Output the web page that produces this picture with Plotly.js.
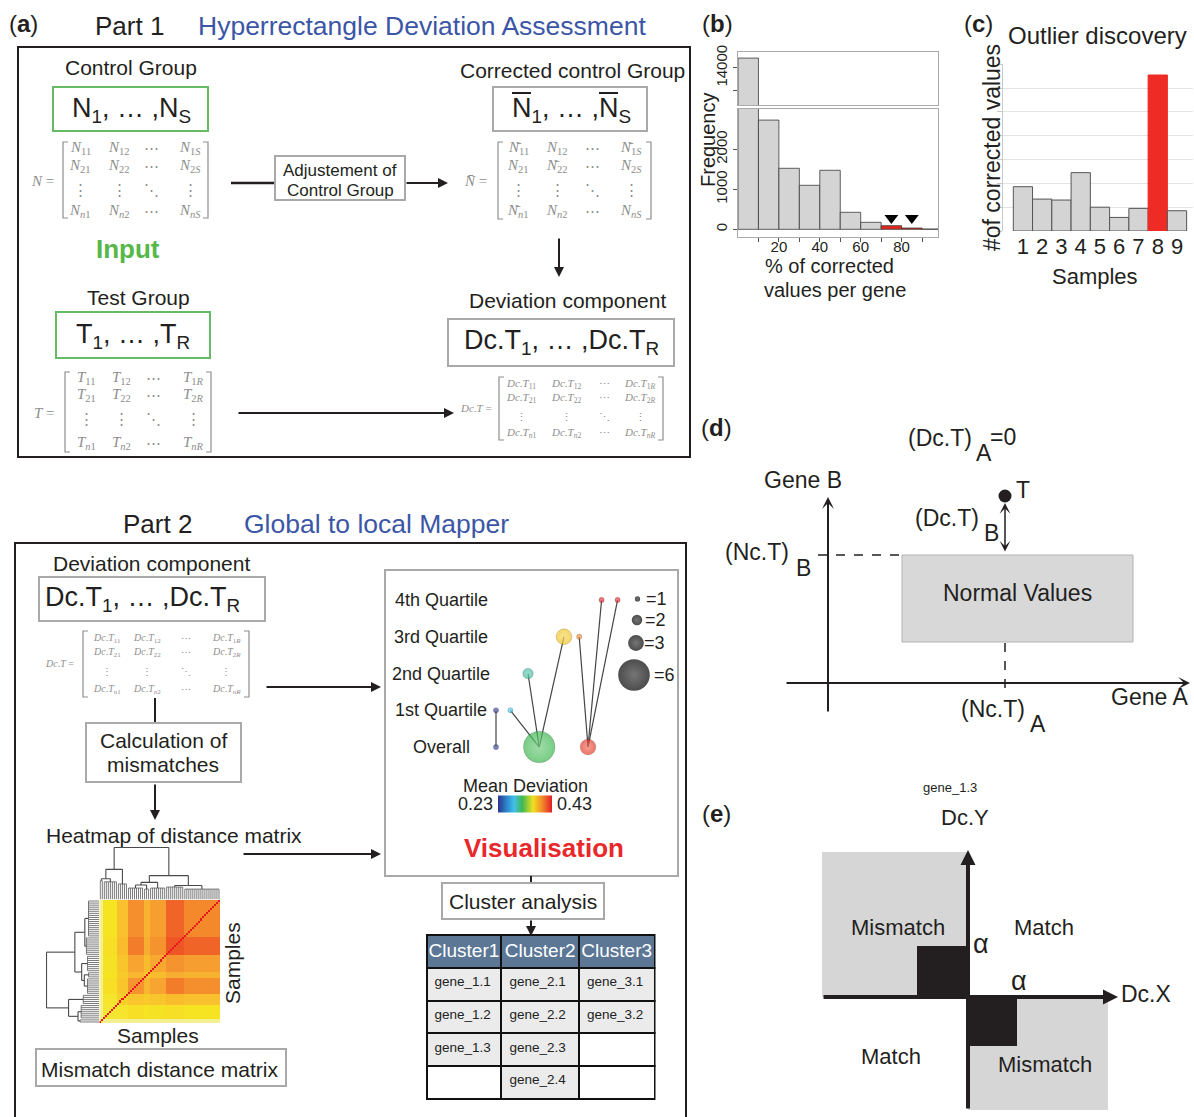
<!DOCTYPE html>
<html><head><meta charset="utf-8">
<script src="https://cdn.plot.ly/plotly-3.0.1.min.js"></script>
<style>html,body{margin:0;padding:0;background:#fff;}#chart{width:1194px;height:1117px;}</style>
</head><body><div id="chart"></div>
<script>
// ================= DATA =================
// (b) histogram: % of corrected values per gene
const histBinStart = [0, 10, 20, 30, 40, 50, 60, 70, 80, 90];
const histFrequency = [14450, 2730, 1525, 1100, 1475, 425, 175, 90, 32, 6];
const histOutlierBins = [70, 80];
// (c) outlier discovery
const sampleIds = [1, 2, 3, 4, 5, 6, 7, 8, 9];
const correctedValues = [186, 134, 130, 245, 100, 57, 95, 655, 85];
const outlierSample = 8;
// Mapper graph (Visualisation)
const quartileLevels = ['Overall', '1st Quartile', '2nd Quartile', '3rd Quartile', '4th Quartile'];
const nodeIds = ['q1a', 'ov1', 'q1b', 'q2', 'ov2', 'q3a', 'q3b', 'ov3', 'q4a', 'q4b'];
const nodeLevel = [1, 0, 1, 2, 0, 3, 3, 0, 4, 4];
const nodeLayoutX = [10, 10, 19, 30, 37, 52.5, 62, 67.5, 76, 86];
const nodeCount = [1, 1, 1, 2, 6, 3, 1, 3, 1, 1];
const nodeMeanDeviation = [0.23, 0.23, 0.29, 0.305, 0.32, 0.37, 0.395, 0.42, 0.43, 0.43];
const edgeFrom = ['q1a', 'q1b', 'q2', 'q3a', 'q3b', 'q4a', 'q4b'];
const edgeTo = ['ov1', 'ov2', 'ov2', 'ov2', 'ov3', 'ov3', 'ov3'];
const sizeLegendValues = [1, 2, 3, 6];
const meanDeviationRange = [0.23, 0.43];
// Heatmap of mismatch distance matrix (samples grouped in blocks)
const sampleGroup = [0,0, 1,1,1,1,1,1,1, 2,2,2,2,2, 3,3,3,3,3,3,3,3, 4,4,4, 5,5,5,5,5,5,5,5,
  6,6,6,6,6,6,6,6,6, 7,7,7,7,7,7,7,7,7,7,7,7,7,7,7,7,7,7];
const groupDistance = [
  [0.90, 0.95, 0.95, 0.95, 0.95, 0.95, 0.95, 0.95],
  [0.95, 0.84, 0.83, 0.80, 0.82, 0.81, 0.80, 0.82],
  [0.95, 0.83, 0.74, 0.70, 0.72, 0.70, 0.66, 0.68],
  [0.95, 0.80, 0.70, 0.50, 0.64, 0.57, 0.42, 0.48],
  [0.95, 0.82, 0.72, 0.64, 0.70, 0.66, 0.60, 0.62],
  [0.95, 0.81, 0.70, 0.57, 0.66, 0.58, 0.50, 0.54],
  [0.95, 0.80, 0.66, 0.42, 0.60, 0.50, 0.30, 0.35],
  [0.95, 0.82, 0.68, 0.48, 0.62, 0.54, 0.35, 0.46]];
const groupCombHeight = [0.36, 0.34, 0.30, 0.22, 0.20, 0.22, 0.24, 0.20];
const groupMerges = [[0, 1, 0.40], [8, 2, 0.58], [3, 4, 0.28], [10, 5, 0.33], [6, 7, 0.27], [11, 12, 0.46], [9, 13, 1.0]];
// Cluster analysis table
const clusterNames = ['Cluster1', 'Cluster2', 'Cluster3'];
const clusterGenes = [['gene_1.1', 'gene_1.2', 'gene_1.3'], ['gene_2.1', 'gene_2.2', 'gene_2.3', 'gene_2.4'], ['gene_3.1', 'gene_3.2']];

// ================= STYLE / HELPERS =================
const W = 1194, H = 1117;
const SANS = 'Liberation Sans, Arial, Helvetica, sans-serif';
const SERIF = 'Liberation Serif, DejaVu Serif, Times New Roman, serif';
const INK = '#231f20', BLUE = '#3b56a6', GREEN = '#55b848', RED = '#e8282b';
const BOXGRAY = '#a9a9a9', MGRAY = '#8e8e8e', GBOX = '#66bb66';
const xd = (a, b) => [a / W, b / W];
const yd = (a, b) => [1 - b / H, 1 - a / H];
const annotations = [], shapes = [];
function T(x, y, text, size, o = {}) {
  annotations.push({x, y, xref: o.xref || 'x', yref: o.yref || 'y', text, showarrow: false,
    xanchor: o.xanchor || 'center', yanchor: o.yanchor || 'middle', textangle: o.angle || 0,
    font: {family: o.family || SANS, size, color: o.color || INK}});
}
function L(x0, y0, x1, y1, color = INK, width = 2, dash = 'solid') {
  shapes.push({type: 'line', xref: 'x', yref: 'y', x0, y0, x1, y1, line: {color, width, dash}, layer: 'above'});
}
function R(x0, y0, x1, y1, color, width = 2, fill = 'rgba(0,0,0,0)', layer = 'above') {
  shapes.push({type: 'rect', xref: 'x', yref: 'y', x0, y0, x1, y1,
    line: {color: color || 'rgba(0,0,0,0)', width: color ? width : 0}, fillcolor: fill, layer});
}
function A(x0, y0, x1, y1, o = {}) {
  annotations.push({x: x1, y: y1, ax: x0, ay: y0, xref: 'x', yref: 'y', axref: 'x', ayref: 'y', text: '',
    showarrow: true, arrowhead: o.head || 2, arrowsize: o.size || 1, arrowwidth: o.width || 2,
    arrowcolor: INK, standoff: 0, startstandoff: 0, arrowside: o.side || 'end',
    startarrowhead: o.head || 2, startarrowsize: o.size || 1});
}
const it = s => s.replace(/([A-Za-z]+)/g, '<i>$1</i>');
const cell = (base, sub) => it(base) + '<sub>' + it(sub) + '</sub>';
function drawMatrix(m) {
  T(m.lx, m.ly, m.label, m.fs, {family: SERIF, color: MGRAY});
  const k = 5;
  shapes.push({type: 'path', xref: 'x', yref: 'y', path: `M${m.l + k},${m.t} L${m.l},${m.t} L${m.l},${m.b} L${m.l + k},${m.b}`, line: {color: MGRAY, width: 1.2}});
  shapes.push({type: 'path', xref: 'x', yref: 'y', path: `M${m.r - k},${m.t} L${m.r},${m.t} L${m.r},${m.b} L${m.r - k},${m.b}`, line: {color: MGRAY, width: 1.2}});
  m.cells.forEach((row, ri) => row.forEach((c, ci) => T(m.cols[ci], m.rows[ri], c, m.fs, {family: SERIF, color: MGRAY})));
}
function cellsFor(base, last, bars = []) {
  const b = (r, c) => (bars.includes(r + '' + c) ? base + '\u0304' : base);
  return [[cell(b(1,1), '11'), cell(b(1,2), '12'), '⋯', cell(b(1,3), '1' + last)],
          [cell(b(2,1), '21'), cell(b(2,2), '22'), '⋯', cell(b(2,3), '2' + last)],
          ['⋮', '⋮', '⋱', '⋮'],
          [cell(b(4,1), 'n1'), cell(b(4,2), 'n2'), '⋯', cell(b(4,3), 'n' + last)]];
}
// colour helpers (for the sphere highlight of mapper nodes)
const hex2rgb = h => [1, 3, 5].map(i => parseInt(h.slice(i, i + 2), 16));
function scaleColor(scale, t) {
  t = Math.max(0, Math.min(1, t));
  for (let i = 1; i < scale.length; i++) {
    if (t <= scale[i][0]) {
      const f = (t - scale[i - 1][0]) / (scale[i][0] - scale[i - 1][0]);
      const a = hex2rgb(scale[i - 1][1]), b = hex2rgb(scale[i][1]);
      return a.map((v, k) => v + (b[k] - v) * f);
    }
  }
  return hex2rgb(scale[scale.length - 1][1]);
}
const lighten = (rgb, f) => 'rgb(' + rgb.map(v => Math.round(v + (255 - v) * f)).join(',') + ')';

// ================= PART 1 =================
T(23, 23, '(<b>a</b>)', 24);
T(129, 26, 'Part 1', 26);
T(422, 26, 'Hyperrectangle Deviation Assessment', 26.5, {color: BLUE});
R(18, 47, 690, 457, INK, 2);
T(131, 67, 'Control Group', 21);
R(53, 87, 208, 131, GBOX, 2);
T(131, 110, 'N<sub>1</sub>, … ,N<sub>S</sub>', 27);
drawMatrix({lx: 42, ly: 181, label: '<i>N</i> =', l: 63, r: 208, t: 142, b: 218,
  cols: [80, 119, 151, 190], rows: [148, 166, 190, 211], fs: 15, cells: cellsFor('N', 'S')});
L(231, 183, 275, 183, INK, 2.5);
R(275, 156, 405, 200, BOXGRAY, 2);
T(340, 170, 'Adjustement of', 17);
T(340, 190, 'Control Group', 17);
A(405, 183, 448, 183);
T(572, 70, 'Corrected control Group', 21);
R(493, 87, 647, 131, BOXGRAY, 2);
T(571, 110, 'N<sub>1</sub>, … ,N<sub>S</sub>', 27);
L(512, 93, 531, 93, INK, 2);
L(599, 93, 618, 93, INK, 2);
drawMatrix({lx: 475, ly: 181, label: '<i>N\u0304</i> =', l: 498, r: 651, t: 142, b: 219,
  cols: [518, 557, 592, 631], rows: [148, 166, 190, 211], fs: 15, cells: cellsFor('N', 'S', ['11', '13', '22', '41'])});
A(559, 237, 559, 277);
T(128, 249, '<b>Input</b>', 26, {color: GREEN});
T(138, 297, 'Test Group', 21);
R(56, 312, 210, 358, GBOX, 2);
T(133, 336, 'T<sub>1</sub>, … ,T<sub>R</sub>', 27);
drawMatrix({lx: 44, ly: 413, label: '<i>T</i> =', l: 65, r: 211, t: 372, b: 452,
  cols: [86, 121, 153, 193], rows: [378, 395, 419, 443], fs: 15, cells: cellsFor('T', 'R')});
A(237, 413, 454, 413);
T(567, 300, 'Deviation component', 21);
R(448, 319, 674, 366, BOXGRAY, 2);
T(561, 342, 'Dc.T<sub>1</sub>, … ,Dc.T<sub>R</sub>', 27);
drawMatrix({lx: 476, ly: 408, label: '<i>Dc</i>.<i>T</i> =', l: 499, r: 663, t: 377, b: 440,
  cols: [521, 566, 604, 640], rows: [384, 398, 417, 433], fs: 11, cells: cellsFor('Dc.T', 'R')});

// ================= PART 2 =================
T(157, 524, 'Part 2', 26);
T(376, 524, 'Global to local Mapper', 26.5, {color: BLUE});
R(15, 543, 686, 1135, INK, 2);
T(151, 563, 'Deviation component', 21);
R(39, 577, 265, 621, BOXGRAY, 2);
T(142, 599, 'Dc.T<sub>1</sub>, … ,Dc.T<sub>R</sub>', 27);
drawMatrix({lx: 59, ly: 663, label: '<i>Dc</i>.<i>T</i> =', l: 83, r: 249, t: 631, b: 697,
  cols: [107, 147, 186, 226], rows: [638, 652, 671, 689], fs: 10, cells: cellsFor('Dc.T', 'R')});
A(265, 687, 381, 687);
L(155, 698, 155, 723, INK, 2);
R(86, 723, 241, 782, BOXGRAY, 2);
T(163, 740, 'Calculation of', 21);
T(163, 764, 'mismatches', 21);
A(155, 783, 155, 820);
T(174, 835, 'Heatmap of distance matrix', 21);
A(242, 854, 381, 854);
T(232, 963, 'Samples', 21, {angle: -90});
T(158, 1035, 'Samples', 21);
R(36, 1049, 286, 1086, BOXGRAY, 2);
T(159, 1069, 'Mismatch distance matrix', 21);
R(385, 570, 678, 876, BOXGRAY, 2);
quartileLevels.forEach((q, i) => T(441, i, q, 18, {yref: 'y5'}));
T(525, 786, 'Mean Deviation', 18);
T(475, 804, '0.23', 18);
T(574, 804, '0.43', 18);
T(544, 848, '<b>Visualisation</b>', 26, {color: RED});
L(531, 876, 531, 883, INK, 2);
R(442, 883, 604, 919, BOXGRAY, 2);
T(523, 901, 'Cluster analysis', 21);
A(531, 919, 531, 936);

// ================= (b) (c) labels =================
T(717, 23, '(<b>b</b>)', 24);
T(708, 140, 'Frequency', 20, {angle: -90});
T(829, 266, '% of corrected', 20);
T(835, 290, 'values per gene', 20);
T(978, 23, '(<b>c</b>)', 24);
T(1097, 35, 'Outlier discovery', 24);
T(992, 148, '#of corrected values', 23, {angle: -90});
T(1095, 276, 'Samples', 22);

// ================= (d) =================
T(716, 427, '(<b>d</b>)', 24);
T(940, 438, '(Dc.T)', 23); T(984, 453, 'A', 23); T(1003, 437, '=0', 23);
T(803, 480, 'Gene B', 23);
R(902, 555, 1133, 642, '#b3b3b3', 1, '#d8d8d8', 'below');
T(1017, 593, 'Normal Values', 23);
L(818, 555, 902, 555, INK, 1.5, 'dash');
L(1005, 643, 1005, 697, INK, 1.5, 'dash');
A(828, 713, 828, 497, {head: 3, width: 2, size: 1});
A(785, 683, 1190, 683, {head: 3, width: 2, size: 1});
shapes.push({type: 'circle', xref: 'x', yref: 'y', x0: 998.5, y0: 489.5, x1: 1011.5, y1: 502.5, fillcolor: INK, line: {width: 0}});
A(1005, 553, 1005, 503, {head: 3, width: 1.5, size: 1.2, side: 'end+start'});
T(1023, 490, 'T', 23);
T(947, 518, '(Dc.T)', 23); T(991, 533, 'B', 23);
T(757, 552, '(Nc.T)', 23); T(803, 568, 'B', 23);
T(993, 709, '(Nc.T)', 23); T(1038, 724, 'A', 23);
T(1149, 697, 'Gene A', 23);

// ================= (e) =================
T(950, 787, 'gene_1.3', 13);
T(716, 813, '(<b>e</b>)', 24);
T(965, 817, 'Dc.Y', 22);
R(822, 852, 968, 997, null, 0, '#d6d6d6', 'below');
R(968, 997, 1108, 1110, null, 0, '#d6d6d6', 'below');
R(917, 946, 968, 997, null, 0, INK, 'below');
R(968, 997, 1017, 1046, null, 0, INK, 'below');
A(968, 1110, 968, 850, {width: 4, size: 0.75});
A(822, 997, 1118, 997, {width: 4, size: 0.75});
T(1146, 994, 'Dc.X', 23);
T(898, 927, 'Mismatch', 22);
T(1044, 927, 'Match', 22);
T(981, 944, 'α', 27);
T(1019, 981, 'α', 27);
T(891, 1056, 'Match', 22);
T(1045, 1064, 'Mismatch', 22);

// ================= TRACES =================
const traces = [];
traces.push({type: 'scatter', x: [], y: [], xaxis: 'x', yaxis: 'y', hoverinfo: 'skip'});

// (b) histogram with broken axis
const histColors = histBinStart.map(b => histOutlierBins.includes(b) ? '#e5261f' : '#d4d4d4');
const histX = histBinStart.map(b => b + 5);
['2', '3'].forEach(k => traces.push({type: 'bar', x: histX, y: histFrequency, width: 10,
  xaxis: 'x' + k, yaxis: 'y' + k, marker: {color: histColors, line: {color: '#3a3a3a', width: 0.8}}, hoverinfo: 'skip'}));
const outIdx = histBinStart.map((b, i) => histOutlierBins.includes(b) ? i : -1).filter(i => i >= 0);
traces.push({type: 'scatter', mode: 'markers', x: outIdx.map(i => histX[i]), y: outIdx.map(() => 285),
  xaxis: 'x3', yaxis: 'y3', cliponaxis: false, marker: {symbol: 'triangle-down', size: 12, color: '#000'}, hoverinfo: 'skip'});

// (c) bars
traces.push({type: 'bar', x: sampleIds, y: correctedValues, width: 1, xaxis: 'x4', yaxis: 'y4',
  marker: {color: sampleIds.map(s => s === outlierSample ? '#ee2b24' : '#d4d4d4'),
           line: {color: sampleIds.map(s => s === outlierSample ? '#ee2b24' : '#555'), width: 1}}, hoverinfo: 'skip'});
traces.push({type: 'scatter', mode: 'markers', x: [outlierSample], y: [correctedValues[sampleIds.indexOf(outlierSample)] + 55],
  xaxis: 'x4', yaxis: 'y4', cliponaxis: false, marker: {symbol: 'triangle-down', size: 14, color: '#000'}, hoverinfo: 'skip'});

// Mapper graph
const JET = [[0, '#2c3590'], [0.18, '#2e8fd0'], [0.3, '#42c0e8'], [0.45, '#3fb852'], [0.65, '#f0e020'], [0.82, '#f3882a'], [1, '#e11e26']];
const ex = [], ey = [];
edgeFrom.forEach((f, i) => {
  const a = nodeIds.indexOf(f), b = nodeIds.indexOf(edgeTo[i]);
  ex.push(nodeLayoutX[a], nodeLayoutX[b], null); ey.push(nodeLevel[a], nodeLevel[b], null);
});
const nodeHighlight = nodeMeanDeviation.map(v => lighten(scaleColor(JET, (v - meanDeviationRange[0]) / (meanDeviationRange[1] - meanDeviationRange[0])), 0.3));
traces.push({type: 'scatter', mode: 'lines', x: ex, y: ey, xaxis: 'x5', yaxis: 'y5', line: {color: '#444', width: 1.2}, hoverinfo: 'skip', cliponaxis: false});
traces.push({type: 'scatter', mode: 'markers', x: nodeLayoutX, y: nodeLevel, xaxis: 'x5', yaxis: 'y5', cliponaxis: false, hoverinfo: 'skip',
  marker: {size: nodeCount, sizemode: 'diameter', sizeref: 0.19, color: nodeMeanDeviation, colorscale: JET,
    cmin: meanDeviationRange[0], cmax: meanDeviationRange[1], gradient: {type: 'radial', color: nodeHighlight},
    line: {width: 0.5, color: 'rgba(0,0,0,0.4)'}, showscale: true,
    colorbar: {orientation: 'h', x: 525 / W, xanchor: 'center', y: 1 - 803.5 / H, yanchor: 'middle', len: 54, lenmode: 'pixels',
      thickness: 17, thicknessmode: 'pixels', outlinewidth: 0, showticklabels: false, ticks: '', xpad: 0, ypad: 0}}});
// size legend
const legPx = [[637.5, 599], [637, 620], [636, 643], [634, 675]];
const toMx = p => (p - 480) / 1.6, toMy = p => (747 - p) / 36.75;
traces.push({type: 'scatter', mode: 'markers', x: legPx.map(p => toMx(p[0])), y: legPx.map(p => toMy(p[1])), xaxis: 'x5', yaxis: 'y5',
  cliponaxis: false, hoverinfo: 'skip', marker: {size: sizeLegendValues, sizemode: 'diameter', sizeref: 0.19, color: '#000',
  gradient: {type: 'radial', color: '#3a3a3a'}, line: {width: 0}}});
sizeLegendValues.forEach((v, i) => T(legPx[i][0] + (v === 6 ? 18 : 6), legPx[i][1], '=' + v, 18, {xanchor: 'left'}));

// Heatmap of distance matrix
const N = sampleGroup.length;
const z = sampleGroup.map((gi, i) => sampleGroup.map((gj, j) => i === j ? 0 : groupDistance[gi][gj]));
const HEAT = [[0, '#e8161e'], [0.32, '#ef5a26'], [0.45, '#f4862c'], [0.58, '#f7a830'], [0.7, '#f8c62c'], [0.82, '#f6e423'], [0.92, '#f4ee78'], [1, '#f3f0b8']];
traces.push({type: 'heatmap', z, xaxis: 'x6', yaxis: 'y6', colorscale: HEAT, zmin: 0, zmax: 1, showscale: false, hoverinfo: 'skip'});
// dendrogram
const combSeg = [], linkSeg = [], nodes = [];
groupCombHeight.forEach((h, g) => {
  const idx = sampleGroup.map((s, i) => s === g ? i : -1).filter(i => i >= 0);
  idx.forEach(i => combSeg.push([i, 0, i, h]));
  combSeg.push([idx[0], h, idx[idx.length - 1], h]);
  nodes.push({x: (idx[0] + idx[idx.length - 1]) / 2, h});
});
groupMerges.forEach(([a, b, h]) => {
  const P = nodes[a], Q = nodes[b];
  linkSeg.push([P.x, P.h, P.x, h], [P.x, h, Q.x, h], [Q.x, h, Q.x, Q.h]);
  nodes.push({x: (P.x + Q.x) / 2, h});
});
function segXY(segs, swap) {
  const X = [], Y = [];
  segs.forEach(s => { if (!swap) { X.push(s[0], s[2], null); Y.push(s[1], s[3], null); } else { X.push(s[1], s[3], null); Y.push(s[0], s[2], null); } });
  return {X, Y};
}
[[combSeg, '#6a6a6a', 0.9], [linkSeg, '#4a4a4a', 1.1]].forEach(([segs, col, w]) => {
  const a = segXY(segs, false), b = segXY(segs, true);
  traces.push({type: 'scatter', mode: 'lines', x: a.X, y: a.Y, xaxis: 'x7', yaxis: 'y7', line: {color: col, width: w}, hoverinfo: 'skip'});
  traces.push({type: 'scatter', mode: 'lines', x: b.X, y: b.Y, xaxis: 'x8', yaxis: 'y8', line: {color: col, width: w}, hoverinfo: 'skip'});
});

// Cluster table
const nRows = Math.max(...clusterGenes.map(c => c.length));
const tableVals = clusterGenes.map(c => Array.from({length: nRows}, (_, r) => c[r] || ''));
const tableFill = tableVals.map(c => c.map(v => v ? '#ebebeb' : '#ffffff'));
traces.push({type: 'table', domain: {x: xd(426.5, 655), y: yd(935, 1100)}, columnwidth: [75, 77.6, 75.7],
  header: {values: clusterNames, fill: {color: '#5b7795'}, font: {family: SANS, size: 19, color: '#ffffff'}, align: 'center', height: 33, line: {color: '#111', width: 2}},
  cells: {values: tableVals, fill: {color: tableFill}, font: {family: SANS, size: 13.5, color: '#222'}, align: 'left', height: 32.7, line: {color: '#111', width: 2}}});

// ================= LAYOUT =================
const hid = {visible: false, fixedrange: true, showgrid: false, zeroline: false};
const layout = {
  width: W, height: H, margin: {l: 0, r: 0, t: 0, b: 0, pad: 0}, paper_bgcolor: '#fff', plot_bgcolor: 'rgba(0,0,0,0)',
  showlegend: false, font: {family: SANS, color: INK}, bargap: 0,
  xaxis: Object.assign({}, hid, {domain: [0, 1], range: [0, W], anchor: 'y'}),
  yaxis: Object.assign({}, hid, {domain: [0, 1], range: [H, 0], anchor: 'x'}),
  // (b) top
  xaxis2: {domain: xd(738, 938), range: [0, 97.8], anchor: 'y2', showticklabels: false, ticks: '', showline: true, mirror: true, linecolor: '#aaa', linewidth: 1, showgrid: false, zeroline: false, fixedrange: true},
  yaxis2: {domain: yd(52, 105), range: [12318, 14727], anchor: 'x2', tickvals: [13000, 14000], ticktext: ['', '14000'], tickangle: -90, ticks: 'outside', ticklen: 4, tickcolor: '#555',
    tickfont: {size: 15, color: INK}, showline: true, mirror: true, linecolor: '#aaa', linewidth: 1, showgrid: false, zeroline: false, fixedrange: true},
  // (b) bottom
  xaxis3: {domain: xd(738, 938), range: [0, 97.8], anchor: 'y3', tickvals: [10, 20, 30, 40, 50, 60, 70, 80, 90], ticktext: ['', '20', '', '40', '', '60', '', '80', ''],
    ticks: 'outside', ticklen: 4, tickcolor: '#555', tickfont: {size: 15, color: INK}, ticklabelstandoff: -8, showline: true, mirror: true, linecolor: '#aaa', linewidth: 1, showgrid: false, zeroline: false, fixedrange: true},
  yaxis3: {domain: yd(109, 237), range: [-192.5, 3007], anchor: 'x3', tickvals: [0, 1000, 2000], tickangle: -90, ticks: 'outside', ticklen: 4, tickcolor: '#555',
    tickfont: {size: 15, color: INK}, showline: true, mirror: true, linecolor: '#aaa', linewidth: 1, showgrid: false, zeroline: false, fixedrange: true},
  // (c)
  xaxis4: {domain: xd(1003, 1193), range: [-0.035, 9.83], anchor: 'y4', tickvals: sampleIds, ticktext: sampleIds.map(String), ticks: '', tickfont: {size: 22, color: INK},
    showline: false, showgrid: false, zeroline: false, fixedrange: true},
  yaxis4: {domain: yd(64.3, 231), range: [0, 700], anchor: 'x4', dtick: 100, showgrid: true, gridcolor: '#e3e3e3', gridwidth: 1, showticklabels: false,
    ticks: 'outside', ticklen: 5, tickcolor: '#c8c8c8', showline: true, linecolor: '#c8c8c8', zeroline: false, fixedrange: true},
  // mapper
  xaxis5: Object.assign({}, hid, {domain: xd(464, 656), range: [-10, 110], anchor: 'y5'}),
  yaxis5: Object.assign({}, hid, {domain: yd(581.6, 765.4), range: [-0.5, 4.5], anchor: 'x5'}),
  // heatmap
  xaxis6: Object.assign({}, hid, {domain: xd(99.3, 220), range: [-0.5, N - 0.5], anchor: 'y6'}),
  yaxis6: Object.assign({}, hid, {domain: yd(900, 1023), range: [-0.5, N - 0.5], anchor: 'x6'}),
  xaxis7: Object.assign({}, hid, {domain: xd(99.3, 220), range: [-0.5, N - 0.5], anchor: 'y7'}),
  yaxis7: Object.assign({}, hid, {domain: yd(847, 899.5), range: [0, 1.01], anchor: 'x7'}),
  xaxis8: Object.assign({}, hid, {domain: xd(46, 99), range: [1.01, 0], anchor: 'y8'}),
  yaxis8: Object.assign({}, hid, {domain: yd(900, 1023), range: [-0.5, N - 0.5], anchor: 'x8'}),
  annotations, shapes
};
Plotly.newPlot('chart', traces, layout, {staticPlot: true, displayModeBar: false});
</script>
</body></html>
